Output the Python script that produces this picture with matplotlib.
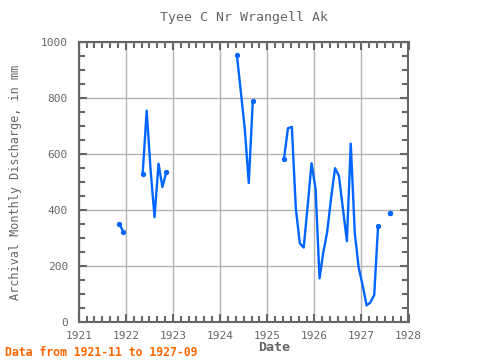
import numpy as np
import pandas as pd
import matplotlib
matplotlib.use('Agg')
import matplotlib.pyplot as plt
import matplotlib.dates as mdates

# Valeurs mensuelles (mm), segments separes par des mois manquants
seg1_months = ['1921-11', '1921-12']
seg1_values = [350, 322]

seg2_months = ['1922-05', '1922-06', '1922-07', '1922-08', '1922-09', '1922-10', '1922-11']
seg2_values = [529, 755, 545, 374, 565, 482, 536]

seg3_months = ['1924-05', '1924-06', '1924-07', '1924-08', '1924-09']
seg3_values = [953, 820, 690, 496, 788]

seg4_months = ['1925-05', '1925-06', '1925-07', '1925-08', '1925-09', '1925-10',
               '1925-11', '1925-12', '1926-01', '1926-02', '1926-03', '1926-04',
               '1926-05', '1926-06', '1926-07', '1926-08', '1926-09', '1926-10',
               '1926-11', '1926-12', '1927-01', '1927-02', '1927-03', '1927-04',
               '1927-05']
seg4_values = [583, 692, 697, 405, 280, 265, 415, 567, 475, 155, 245, 320,
               440, 549, 522, 405, 288, 637, 320, 195, 130, 58, 68, 95, 342]

seg5_months = ['1927-08']
seg5_values = [387]

segments = [(seg1_months, seg1_values), (seg2_months, seg2_values),
            (seg3_months, seg3_values), (seg4_months, seg4_values),
            (seg5_months, seg5_values)]

gray = '#666666'
mono = 'DejaVu Sans Mono'

fig = plt.figure(figsize=(4.8, 3.6), dpi=100)
ax = fig.add_axes([79 / 480, 1 - 321.6 / 360, (408.5 - 79) / 480, (321.6 - 42.2) / 360])

for months, values in segments:
    dates = pd.to_datetime(months) + pd.Timedelta(days=9)
    ax.plot(dates, values, color='#0066ff', lw=1.7, marker='o', ms=2.8,
            markevery=[0, len(values) - 1])

ax.set_xlim(pd.Timestamp('1921-01-01'), pd.Timestamp('1928-01-01'))
ax.set_ylim(0, 1000)

ax.xaxis.set_major_locator(mdates.YearLocator())
ax.xaxis.set_major_formatter(mdates.DateFormatter('%Y'))
ax.xaxis.set_minor_locator(mdates.MonthLocator(bymonth=[3, 5, 7, 9, 11]))
ax.set_yticks([0, 200, 400, 600, 800, 1000])
ax.set_yticks(np.arange(0, 1001, 50), minor=True)

ax.grid(True, which='major', color='#b4b4b4', lw=1)
ax.tick_params(which='both', direction='in', top=True, right=True, colors=gray,
               labelsize=8, labelcolor=gray)
ax.tick_params(which='major', length=6, width=1.5)
ax.tick_params(which='minor', length=4, width=1.5)
ax.tick_params(axis='y', pad=8)
ax.tick_params(axis='x', pad=7)
for lab in ax.get_xticklabels() + ax.get_yticklabels():
    lab.set_family(mono)
for s in ax.spines.values():
    s.set_color(gray)
    s.set_linewidth(1.5)

fig.text(0.5 * (79 + 408.5) / 480, 1 - 18 / 360, 'Tyee C Nr Wrangell Ak',
         ha='center', va='center', family=mono, fontsize=9.5, color=gray)
fig.text(16 / 480, 1 - 182 / 360, 'Archival Monthly Discharge, in mm', rotation=90,
         ha='center', va='center', family=mono, fontsize=8.6, color=gray)
fig.text(274 / 480, 1 - 347.5 / 360, 'Date', ha='center', va='center',
         family=mono, fontsize=9.6, color=gray, fontweight='bold')
fig.text(5 / 480, 1 - 352 / 360, 'Data from 1921-11 to 1927-09', ha='left', va='center',
         family=mono, fontsize=8.3, color='#ff6600', fontweight='bold')

fig.savefig('out.png', dpi=100)
